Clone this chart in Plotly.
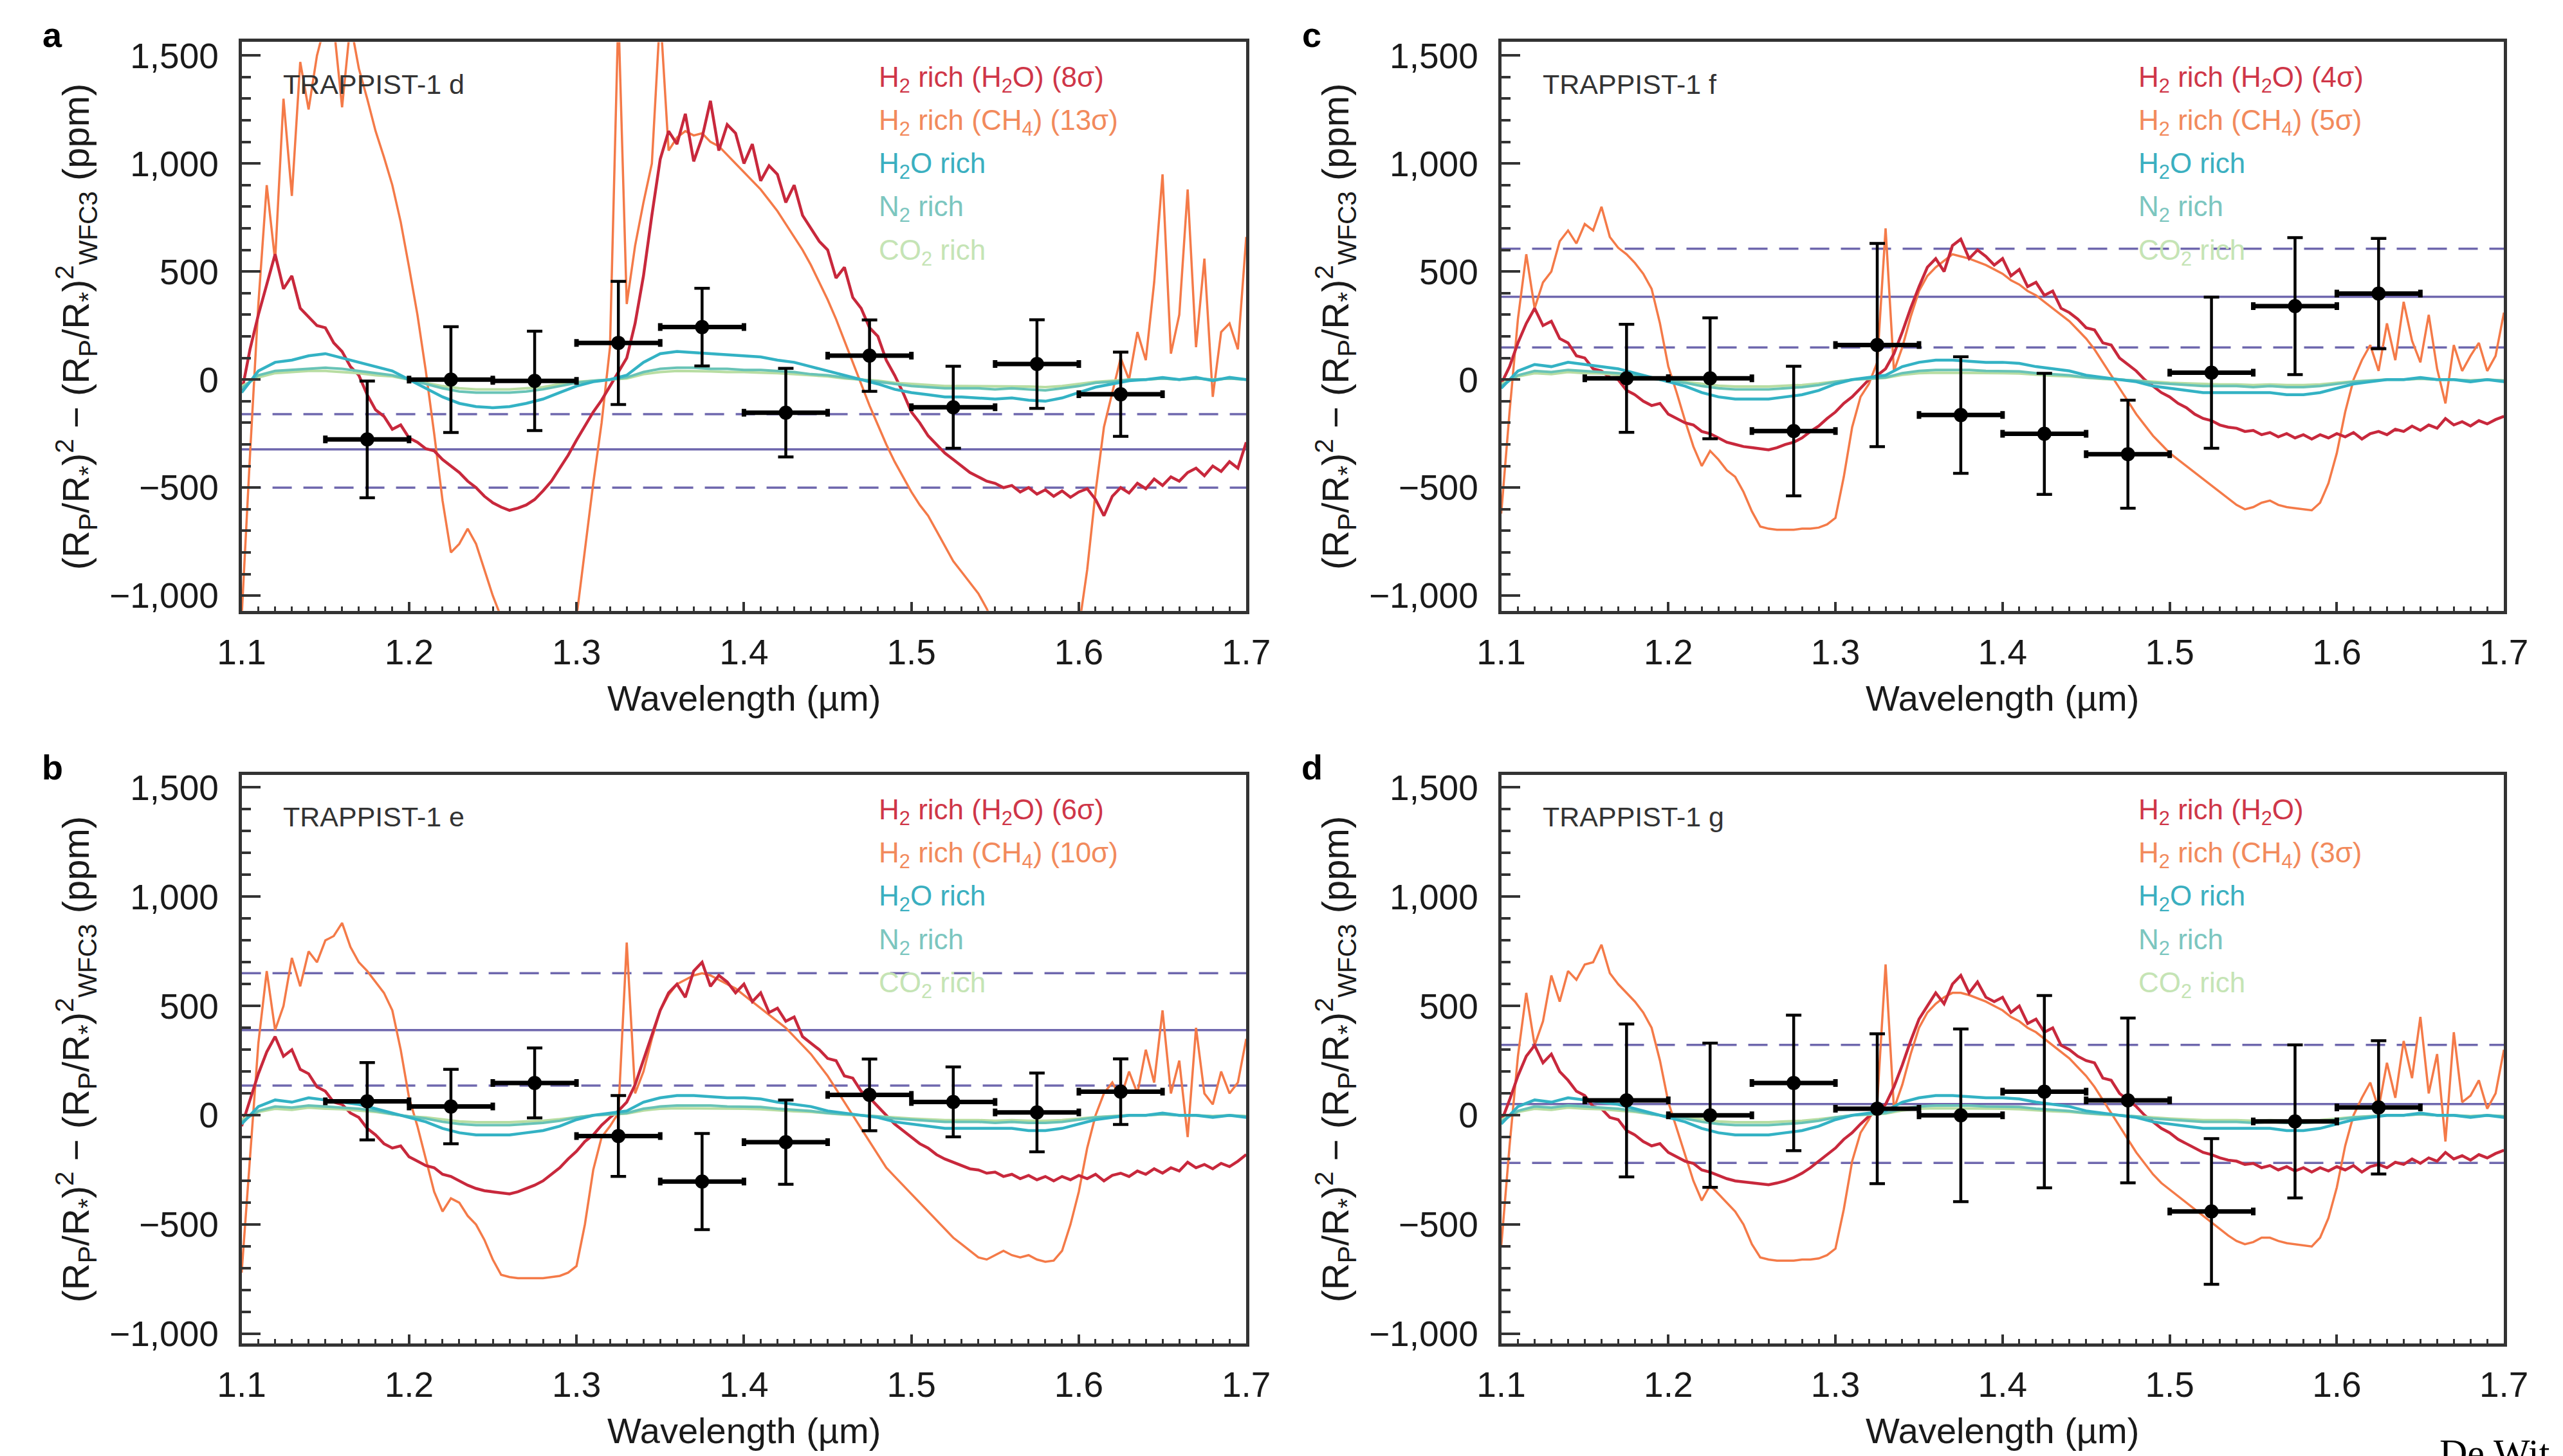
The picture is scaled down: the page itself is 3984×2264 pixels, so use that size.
import plotly.graph_objects as go

# ------------------------------------------------------------------ data
WAVELENGTH_MODEL = [
    1.100, 1.105, 1.110, 1.115, 1.120, 1.125, 1.130, 1.135, 1.140, 1.145,
    1.150, 1.155, 1.160, 1.165, 1.170, 1.175, 1.180, 1.185, 1.190, 1.195,
    1.200, 1.205, 1.210, 1.215, 1.220, 1.225, 1.230, 1.235, 1.240, 1.245,
    1.250, 1.255, 1.260, 1.265, 1.270, 1.275, 1.280, 1.285, 1.290, 1.295,
    1.300, 1.305, 1.310, 1.315, 1.320, 1.325, 1.330, 1.335, 1.340, 1.345,
    1.350, 1.355, 1.360, 1.365, 1.370, 1.375, 1.380, 1.385, 1.390, 1.395,
    1.400, 1.405, 1.410, 1.415, 1.420, 1.425, 1.430, 1.435, 1.440, 1.445,
    1.450, 1.455, 1.460, 1.465, 1.470, 1.475, 1.480, 1.485, 1.490, 1.495,
    1.500, 1.505, 1.510, 1.515, 1.520, 1.525, 1.530, 1.535, 1.540, 1.545,
    1.550, 1.555, 1.560, 1.565, 1.570, 1.575, 1.580, 1.585, 1.590, 1.595,
    1.600, 1.605, 1.610, 1.615, 1.620, 1.625, 1.630, 1.635, 1.640, 1.645,
    1.650, 1.655, 1.660, 1.665, 1.670, 1.675, 1.680, 1.685, 1.690, 1.695,
    1.700,
]
WAVELENGTH_SMOOTH = [
    1.10, 1.11, 1.12, 1.13, 1.14, 1.15, 1.16, 1.17, 1.18, 1.19,
    1.20, 1.21, 1.22, 1.23, 1.24, 1.25, 1.26, 1.27, 1.28, 1.29,
    1.30, 1.31, 1.32, 1.33, 1.34, 1.35, 1.36, 1.37, 1.38, 1.39,
    1.40, 1.41, 1.42, 1.43, 1.44, 1.45, 1.46, 1.47, 1.48, 1.49,
    1.50, 1.51, 1.52, 1.53, 1.54, 1.55, 1.56, 1.57, 1.58, 1.59,
    1.60, 1.61, 1.62, 1.63, 1.64, 1.65, 1.66, 1.67, 1.68, 1.69,
    1.70,
]
BIN_CENTERS = [1.175, 1.225, 1.275, 1.325, 1.375, 1.425, 1.475, 1.525, 1.575, 1.625]
BIN_HALF_WIDTHS = [0.025, 0.025, 0.025, 0.025, 0.025, 0.025, 0.025, 0.025, 0.025, 0.025]

X_TICK_VALUES = [1.1, 1.2, 1.3, 1.4, 1.5, 1.6, 1.7]
X_TICK_TEXT = ["1.1", "1.2", "1.3", "1.4", "1.5", "1.6", "1.7"]
Y_TICK_VALUES = [-1000, -500, 0, 500, 1000, 1500]
Y_TICK_TEXT = ["\u22121,000", "\u2212500", "0", "500", "1,000", "1,500"]

# ---- TRAPPIST-1 d (panel a)
D_H2_H2O = [
    -60, 140, 300, 440, 580, 420, 480, 330, 290, 250,
    240, 170, 130, 60, 20, -70, -140, -170, -230, -210,
    -270, -290, -320, -330, -370, -400, -430, -470, -500, -540,
    -570, -590, -605, -595, -580, -555, -515, -470, -410, -350,
    -280, -215, -150, -95, -30, 30, 100, 260, 480, 760,
    1020, 1150, 1090, 1230, 1010, 1120, 1290, 1060, 1180, 1140,
    1000, 1090, 920, 990, 950, 820, 900, 760, 700, 640,
    600, 470, 520, 380, 330, 240, 200, 90, 20, -60,
    -150, -200, -260, -300, -340, -370, -400, -430, -450, -470,
    -480, -500, -490, -520, -500, -530, -510, -540, -515, -545,
    -520, -505, -555, -630, -540, -500, -525, -480, -505, -460,
    -490, -450, -470, -430, -410, -445, -400, -425, -380, -410,
    -290,
]
D_H2_CH4 = [
    -1100, -350, 350, 900, 550, 1300, 850, 1470, 1250, 1500,
    1650, 1640, 1260, 1650, 1440, 1300, 1150, 1030, 900, 730,
    520, 300, 40, -250, -560, -800, -760, -690, -760, -880,
    -1000, -1100, -1200, -1200, -1200, -1200, -1200, -1200, -1200, -1200,
    -1100, -780, -480, -200, 150, 1700, 350, 620, 820, 1000,
    1700, 1060, 1120, 1150, 1130, 1140, 1100, 1080, 1040, 1000,
    960, 920, 880, 830, 780, 720, 660, 600, 530, 450,
    370, 280, 180, 80, -20, -120, -210, -300, -380, -450,
    -520, -580, -630, -700, -770, -840, -890, -940, -990, -1060,
    -1150, -1200, -1200, -1200, -1200, -1200, -1200, -1200, -1200, -1200,
    -1150, -880, -520, -220, -60, 100, 0, 220, 90, 450,
    950, 120, 300, 880, 150, 560, -80, 220, 260, 140,
    660,
]
D_H2O_RICH = [
    -60, 40, 80, 90, 110, 120, 100, 80, 60, 40,
    0, -40, -80, -110, -125, -130, -125, -110, -90, -60,
    -30, -10, 0, 20, 80, 120, 130, 125, 120, 115,
    110, 105, 90, 80, 60, 40, 20, 0, -20, -45,
    -60, -70, -80, -80, -85, -90, -85, -95, -100, -85,
    -60, -35, -20, -5, 0, 10, 0, 10, -5, 10,
    0,
]
D_N2_RICH = [
    -40, 20, 40, 45, 50, 55, 50, 40, 30, 20,
    0, -20, -40, -55, -60, -60, -60, -55, -45, -30,
    -15, -5, 0, 10, 35, 50, 55, 55, 50, 50,
    45, 45, 40, 35, 25, 20, 10, 0, -10, -20,
    -30, -35, -40, -40, -40, -45, -40, -45, -50, -40,
    -30, -15, -10, 0, 0, 5, 0, 5, 0, 5,
    0,
]
D_CO2_RICH = [
    -30, 10, 30, 35, 40, 40, 35, 30, 20, 15,
    0, -15, -30, -40, -45, -45, -45, -40, -35, -20,
    -10, -5, 0, 5, 25, 35, 40, 40, 38, 35,
    35, 32, 30, 25, 20, 15, 5, 0, -5, -15,
    -20, -25, -30, -30, -30, -32, -30, -32, -35, -30,
    -20, -10, -5, 0, 0, 5, 0, 5, 0, 5,
    0,
]
D_OBS = [-277, 0, -6, 170, 243, -153, 111, -128, 72, -68]
D_ERR = [270, 245, 230, 285, 180, 205, 165, 190, 205, 195]
D_MEAN, D_UPPER, D_LOWER = -323, -160, -500

# ---- TRAPPIST-1 e (panel b)
E_H2_H2O = [
    -50, 70, 190, 290, 360, 270, 300, 210, 190, 130,
    110, 60, 50, 10, -10, -60, -90, -130, -150, -140,
    -190, -210, -230, -240, -270, -280, -300, -320, -335, -345,
    -350, -355, -360, -350, -335, -320, -300, -270, -240, -200,
    -165, -120, -90, -45, -10, 20, 60, 140, 250, 370,
    480, 560, 600, 540, 660, 700, 590, 640, 610, 560,
    600, 520, 560, 470, 490, 430, 450, 360, 330, 300,
    260, 250, 180, 170, 110, 80, 40, 0, -40, -70,
    -100, -130, -150, -180, -200, -215, -230, -245, -250, -265,
    -260, -280, -270, -290, -275, -295, -280, -300, -280, -295,
    -275, -290, -270, -300, -275, -265, -280, -255, -270, -245,
    -265, -240, -255, -215, -240, -225, -245, -220, -235, -210,
    -180,
]
E_H2_CH4 = [
    -720, -200, 330, 660, 390, 500, 720, 590, 750, 700,
    800, 820, 880, 770, 700, 660, 610, 560, 480, 300,
    80, -50, -200, -350, -440, -380, -400, -460, -500, -570,
    -660, -730, -740, -745, -745, -745, -745, -740, -735, -720,
    -690, -500, -250, -100, -50, 10, 790, 100, 200, 350,
    480, 550, 600, 620, 640, 650, 640, 620, 600, 580,
    550, 520, 490, 460, 430, 400, 360, 320, 280, 230,
    180, 120, 60, 0, -60, -120, -180, -240, -280, -320,
    -360, -400, -440, -480, -520, -560, -590, -620, -650, -660,
    -640, -620, -640, -650, -640, -660, -670, -665, -620, -500,
    -350, -150, 0, 100, 150, 80, 200, 100, 300, 150,
    480, 100, 250, -100, 400, 100, 50, 200, 100, 150,
    350,
]
E_OBS = [64, 40, 148, -95, -303, -123, 93, 61, 13, 108]
E_ERR = [177, 170, 160, 185, 220, 193, 164, 160, 180, 150]
E_MEAN, E_UPPER, E_LOWER = 390, 650, 136

# ---- TRAPPIST-1 f (panel c)
F_H2_H2O = [
    -20, 60, 170, 260, 330, 250, 270, 190, 170, 110,
    100, 50, 40, 10, 0, -50, -70, -100, -120, -110,
    -160, -180, -200, -210, -240, -250, -270, -290, -300, -310,
    -315, -320, -325, -315, -300, -290, -270, -240, -215, -180,
    -150, -110, -80, -40, 0, 20, 50, 120, 220, 330,
    430, 520, 560, 500, 620, 650, 560, 600, 570, 530,
    560, 480, 510, 430, 450, 390, 410, 330, 310, 280,
    240, 230, 170, 160, 100, 70, 40, 0, -30, -60,
    -80, -110, -130, -160, -180, -190, -210, -220, -225, -240,
    -235, -255, -245, -265, -250, -270, -255, -275, -255, -270,
    -250, -265, -245, -275, -250, -240, -255, -230, -240, -215,
    -235, -210, -225, -180, -210, -195, -215, -190, -205, -185,
    -170,
]
F_H2_CH4 = [
    -620, -150, 280, 580, 330, 450, 500, 640, 690, 630,
    720, 690, 800, 660, 610, 580, 540, 490, 420, 260,
    60, -60, -190, -310, -400, -330, -370, -420, -450, -520,
    -610, -680, -690, -695, -695, -695, -690, -690, -685, -670,
    -640, -450, -220, -80, -20, 80, 700, 40, 150, 290,
    410, 480, 520, 550, 580, 570, 560, 545, 530, 510,
    490, 460, 440, 410, 390, 360, 330, 300, 270, 230,
    190, 140, 80, 20, -40, -100, -160, -210, -260, -300,
    -340, -370, -400, -430, -460, -490, -520, -550, -580, -600,
    -590, -570, -560, -580, -590, -595, -600, -605, -570, -480,
    -340, -150, 0, 90, 160, 40, 260, 90, 360, 180,
    80, 300, 50, -110, 160, 40, 110, 170, 40, 110,
    310,
]
F_OBS = [6, 6, -238, 160, -164, -251, -345, 32, 340, 398]
F_ERR = [250, 280, 300, 470, 270, 280, 250, 350, 317, 255]
F_MEAN, F_UPPER, F_LOWER = 383, 606, 149

# ---- TRAPPIST-1 g (panel d)
G_H2_H2O = [
    -30, 70, 180, 270, 320, 240, 280, 200, 160, 110,
    90, 40, 30, -10, -20, -70, -90, -120, -140, -130,
    -170, -190, -210, -220, -250, -260, -275, -290, -300, -305,
    -310, -315, -318, -310, -300, -285, -265, -240, -210, -180,
    -150, -110, -80, -40, -5, 20, 50, 130, 230, 340,
    440, 500, 560, 510, 600, 640, 560, 610, 540, 520,
    540, 470, 500, 420, 440, 380, 400, 320, 300, 270,
    250, 240, 170, 160, 100, 70, 40, 0, -30, -60,
    -80, -110, -130, -150, -170, -180, -195, -205, -210, -225,
    -220, -240, -230, -250, -235, -255, -240, -260, -240, -255,
    -235, -250, -230, -260, -235, -225, -240, -215, -225, -200,
    -220, -195, -210, -170, -200, -185, -205, -180, -195, -175,
    -160,
]
G_H2_CH4 = [
    -600, -140, 270, 560, 320, 430, 640, 520, 660, 620,
    690, 700, 780, 650, 600, 560, 520, 470, 400, 250,
    60, -60, -180, -300, -390, -320, -360, -400, -440, -500,
    -590, -650, -660, -665, -665, -665, -660, -660, -655, -640,
    -610, -430, -210, -80, -20, 60, 690, 30, 140, 280,
    400, 470, 510, 540, 560, 560, 550, 535, 520, 500,
    480, 450, 430, 400, 380, 350, 320, 290, 260, 220,
    180, 130, 70, 10, -50, -110, -170, -220, -270, -310,
    -340, -370, -400, -430, -460, -490, -520, -550, -575, -590,
    -580, -560, -560, -575, -585, -590, -595, -600, -560, -470,
    -330, -140, 0, 80, 150, 30, 240, 80, 340, 170,
    450, 100, 280, -120, 380, 60, 90, 160, 30, 100,
    300,
]
G_OBS = [68, 0, 148, 30, 0, 108, 68, -440, -28, 36]
G_ERR = [350, 330, 310, 343, 395, 440, 377, 333, 350, 305]
G_MEAN, G_UPPER, G_LOWER = 51, 322, -218

# ---- secondary-atmosphere models for planets e, f, g (nearly identical)
EFG_H2O_RICH = [
    -40, 40, 70, 60, 80, 70, 60, 50, 30, 10,
    -10, -30, -60, -80, -90, -90, -90, -80, -70, -50,
    -20, 0, 10, 20, 60, 80, 90, 90, 85, 80,
    80, 75, 60, 50, 40, 20, 10, 0, -10, -30,
    -40, -50, -60, -60, -60, -60, -60, -70, -70, -60,
    -40, -20, -10, 0, 0, 10, 0, 0, -10, 0,
    -10,
]
EFG_N2_RICH = [
    -30, 20, 40, 35, 45, 40, 35, 30, 20, 5,
    -5, -15, -30, -40, -45, -45, -45, -40, -35, -25,
    -10, 0, 5, 10, 30, 40, 45, 45, 45, 40,
    40, 38, 30, 25, 20, 10, 5, 0, -5, -15,
    -20, -25, -30, -30, -30, -35, -30, -35, -35, -30,
    -20, -10, -5, 0, 0, 5, 0, 0, -5, 0,
    -5,
]
EFG_CO2_RICH = [
    -20, 15, 30, 25, 35, 30, 28, 22, 15, 5,
    -5, -10, -20, -28, -32, -32, -32, -28, -25, -18,
    -8, 0, 3, 8, 22, 30, 32, 32, 32, 30,
    30, 28, 22, 18, 15, 8, 3, 0, -4, -10,
    -15, -18, -22, -22, -22, -25, -22, -25, -25, -22,
    -15, -8, -4, 0, 0, 4, 0, 0, -4, 0,
    -4,
]

# ------------------------------------------------------------------ styling
W, H = 3984, 2264
FONT = "Liberation Sans, Arial, Helvetica, sans-serif"
AXIS_COLOR = "#333333"
RED = "#c8283c"
ORANGE = "#f47a48"
CYAN = "#33b2c4"
TEAL = "#68c3b6"
GREEN = "#b8dda2"
PURPLE = "#6f68ae"
LEG_COLORS = ["#cf3648", "#f28a5c", "#3aafc0", "#7cc6bf", "#c5e4b5"]


def px_x(p):
    return p / W


def px_y(p):
    return 1 - p / H


PANELS = [
    dict(letter="a", name="TRAPPIST-1 d", ax="", left=336, right=1928, top=47, bottom=942,
         yr=[-1070, 1562], h2o=D_H2_H2O, ch4=D_H2_CH4, wr=D_H2O_RICH, n2=D_N2_RICH,
         co2=D_CO2_RICH, obs=D_OBS, err=D_ERR, lines=(D_MEAN, D_UPPER, D_LOWER),
         sig=(" (8\u03c3)", " (13\u03c3)")),
    dict(letter="c", name="TRAPPIST-1 f", ax="2", left=2332, right=3921, top=47, bottom=942,
         yr=[-1070, 1562], h2o=F_H2_H2O, ch4=F_H2_CH4, wr=EFG_H2O_RICH, n2=EFG_N2_RICH,
         co2=EFG_CO2_RICH, obs=F_OBS, err=F_ERR, lines=(F_MEAN, F_UPPER, F_LOWER),
         sig=(" (4\u03c3)", " (5\u03c3)")),
    dict(letter="b", name="TRAPPIST-1 e", ax="3", left=336, right=1928, top=1200, bottom=2095,
         yr=[-1044, 1558], h2o=E_H2_H2O, ch4=E_H2_CH4, wr=EFG_H2O_RICH, n2=EFG_N2_RICH,
         co2=EFG_CO2_RICH, obs=E_OBS, err=E_ERR, lines=(E_MEAN, E_UPPER, E_LOWER),
         sig=(" (6\u03c3)", " (10\u03c3)")),
    dict(letter="d", name="TRAPPIST-1 g", ax="4", left=2332, right=3921, top=1200, bottom=2095,
         yr=[-1044, 1558], h2o=G_H2_H2O, ch4=G_H2_CH4, wr=EFG_H2O_RICH, n2=EFG_N2_RICH,
         co2=EFG_CO2_RICH, obs=G_OBS, err=G_ERR, lines=(G_MEAN, G_UPPER, G_LOWER),
         sig=("", " (3\u03c3)")),
]

fig = go.Figure()
layout = dict(
    width=W, height=H, margin=dict(l=0, r=0, t=0, b=0),
    paper_bgcolor="white", plot_bgcolor="white",
    font=dict(family=FONT, color="#222222"),
    showlegend=False,
)
annotations = []
shapes = []

Y_TITLE = ("(R<sub>P</sub>/R<sub>*</sub>)<sup>2</sup> \u2212 "
           "(R<sub>P</sub>/R<sub>*</sub>)<sup>2</sup><sub>WFC3</sub> (ppm)")

for p in PANELS:
    xa = "x" + p["ax"]
    ya = "y" + p["ax"]
    xkey = "xaxis" + p["ax"]
    ykey = "yaxis" + p["ax"]
    layout[xkey] = dict(
        domain=[px_x(p["left"]), px_x(p["right"])], anchor=ya, range=[1.1, 1.7],
        tickmode="array", tickvals=X_TICK_VALUES, ticktext=X_TICK_TEXT,
        ticks="inside", ticklen=14, tickwidth=4, tickcolor=AXIS_COLOR,
        showline=True, linecolor=AXIS_COLOR, linewidth=4.5, mirror=True,
        showgrid=False, zeroline=False, ticklabelstandoff=12,
        tickfont=dict(size=55, color="#1a1a1a", family=FONT),
        minor=dict(ticks="inside", dtick=0.01, tick0=1.1, ticklen=7, tickwidth=3,
                   tickcolor=AXIS_COLOR, showgrid=False),
    )
    layout[ykey] = dict(
        domain=[px_y(p["bottom"]), px_y(p["top"])], anchor=xa, range=p["yr"],
        tickmode="array", tickvals=Y_TICK_VALUES, ticktext=Y_TICK_TEXT,
        ticks="inside", ticklen=30, tickwidth=4, tickcolor=AXIS_COLOR,
        showline=True, linecolor=AXIS_COLOR, linewidth=4.5, mirror=True,
        showgrid=False, zeroline=False, ticklabelstandoff=20,
        tickfont=dict(size=55, color="#1a1a1a", family=FONT),
        minor=dict(ticks="inside", dtick=100, tick0=0, ticklen=15, tickwidth=4,
                   tickcolor=AXIS_COLOR, showgrid=False),
    )

    # mean and +-1 sigma reference lines
    mean, upper, lower = p["lines"]
    for val, dash in ((mean, "solid"), (upper, "30px,18px"), (lower, "30px,18px")):
        shapes.append(dict(type="line", xref=xa + " domain", yref=ya, x0=0, x1=1,
                           y0=val, y1=val, layer="below",
                           line=dict(color=PURPLE, width=3.5, dash=dash)))

    # model spectra
    fig.add_trace(go.Scatter(x=WAVELENGTH_MODEL, y=p["ch4"], mode="lines", xaxis=xa, yaxis=ya,
                             line=dict(color=ORANGE, width=3.5), name="H2 rich (CH4)"))
    fig.add_trace(go.Scatter(x=WAVELENGTH_MODEL, y=p["h2o"], mode="lines", xaxis=xa, yaxis=ya,
                             line=dict(color=RED, width=4.5), name="H2 rich (H2O)"))
    fig.add_trace(go.Scatter(x=WAVELENGTH_SMOOTH, y=p["co2"], mode="lines", xaxis=xa, yaxis=ya,
                             line=dict(color=GREEN, width=4), name="CO2 rich"))
    fig.add_trace(go.Scatter(x=WAVELENGTH_SMOOTH, y=p["n2"], mode="lines", xaxis=xa, yaxis=ya,
                             line=dict(color=TEAL, width=4), name="N2 rich"))
    fig.add_trace(go.Scatter(x=WAVELENGTH_SMOOTH, y=p["wr"], mode="lines", xaxis=xa, yaxis=ya,
                             line=dict(color=CYAN, width=4.5), name="H2O rich"))

    # observed spectrum
    fig.add_trace(go.Scatter(
        x=BIN_CENTERS, y=p["obs"], mode="markers", xaxis=xa, yaxis=ya, name="WFC3",
        marker=dict(color="black", size=22),
        error_x=dict(type="data", array=BIN_HALF_WIDTHS, color="black", thickness=7, width=6),
        error_y=dict(type="data", array=p["err"], color="black", thickness=4.5, width=12),
    ))

    # texts
    cx = (p["left"] + p["right"]) / 2
    cy = (p["top"] + p["bottom"]) / 2
    annotations.append(dict(text="<b>" + p["letter"] + "</b>", xref="paper", yref="paper",
                            x=px_x(p["left"] - 300), y=px_y(p["top"] - 12), showarrow=False,
                            xanchor="center", yanchor="middle",
                            font=dict(size=54, color="black", family=FONT)))
    annotations.append(dict(text=p["name"], xref="paper", yref="paper",
                            x=px_x(p["left"] + 64), y=px_y(p["top"] + 66), showarrow=False,
                            xanchor="left", yanchor="middle",
                            font=dict(size=43, color="#333333", family=FONT)))
    annotations.append(dict(text="Wavelength (\u00b5m)", xref="paper", yref="paper",
                            x=px_x(cx), y=px_y(p["bottom"] + 137), showarrow=False,
                            xanchor="center", yanchor="middle",
                            font=dict(size=56, color="#1a1a1a", family=FONT)))
    annotations.append(dict(text=Y_TITLE, xref="paper", yref="paper", textangle=-90,
                            x=px_x(p["left"] - 262), y=px_y(cy), showarrow=False,
                            xanchor="center", yanchor="middle",
                            font=dict(size=58, color="#1a1a1a", family=FONT)))
    legend_texts = [
        "H<sub>2</sub> rich (H<sub>2</sub>O)" + p["sig"][0],
        "H<sub>2</sub> rich (CH<sub>4</sub>)" + p["sig"][1],
        "H<sub>2</sub>O rich",
        "N<sub>2</sub> rich",
        "CO<sub>2</sub> rich",
    ]
    for i, (txt, col) in enumerate(zip(legend_texts, LEG_COLORS)):
        annotations.append(dict(text=txt, xref="paper", yref="paper",
                                x=px_x(p["left"] + 1008), y=px_y(p["top"] + 58 + 68 * i),
                                showarrow=False, xanchor="left", yanchor="middle",
                                font=dict(size=44, color=col, family=FONT)))

annotations.append(dict(text="De Wit et al.", xref="paper", yref="paper",
                        x=px_x(3817), y=px_y(2232), showarrow=False,
                        xanchor="left", yanchor="top",
                        font=dict(size=60, color="black",
                                  family="Liberation Serif, Times New Roman, serif")))

layout["annotations"] = annotations
layout["shapes"] = shapes
fig.update_layout(**layout)
fig.write_html("out.html")
